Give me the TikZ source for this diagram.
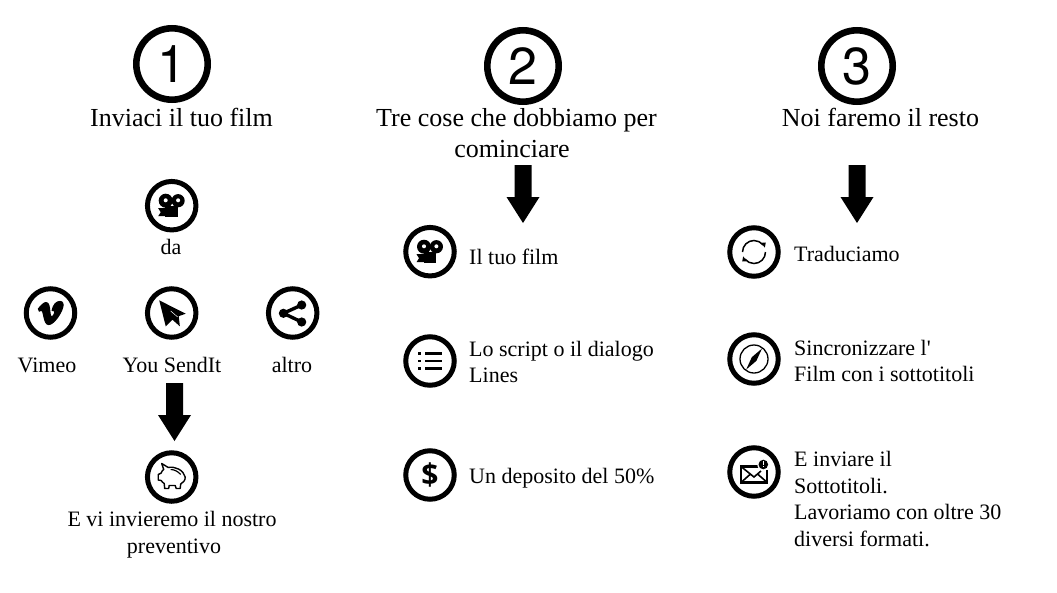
\documentclass[tikz,border=0pt]{standalone}
\usepackage{fontspec}
\setmainfont{Liberation Serif}
\newfontfamily\digitfont{TeX Gyre Heros}
\newfontfamily\dollarfont{Open Sans}
\newcommand{\camicon}{%
  \fill (-6,-5) circle (7); \fill (6.4,-5) circle (6.6);
  \fill[white] (-6,-5.4) circle (2); \fill[white] (6.4,-5.4) circle (2);
  \fill (-6.5,0) rectangle (6,11.5);
  \fill (-6,2.5) -- (-13.5,2.5) -- (-11,6.5) -- (-13.5,10.5) -- (-6,10.5) -- cycle;}
\newcommand{\vimeoicon}{%
  \fill[draw=black,line width=1,line join=round] (-12.2,-4.2) .. controls (-9,-8) and (-6.5,-10.5) .. (-4.5,-10.5)
    .. controls (-1.5,-10.5) and (-1,-6) .. (-0.6,-1.5)
    .. controls (-0.3,2) and (0.3,4) .. (1.2,4)
    .. controls (2.2,4) and (4.2,1) .. (4.2,-0.5)
    .. controls (4.2,-2) and (3.5,-3) .. (1.6,-2.5)
    .. controls (2.6,-8.5) and (6,-11.6) .. (9.5,-11.6)
    .. controls (12.6,-11.6) and (13.2,-8.5) .. (12.2,-5.5)
    .. controls (10.5,1) and (3,11.6) .. (-1.8,11.6)
    .. controls (-5,11.6) and (-5.8,7) .. (-6.8,3)
    .. controls (-7.5,0) and (-8,-2.8) .. (-9,-2.8)
    .. controls (-9.6,-2.8) and (-10.5,-2.2) .. (-11.2,-1.8) -- cycle;}
\newcommand{\planeicon}{%
  \fill (-12.5,-12.7) -- (14,0.7) -- (7,3.2) -- (8.2,13.3) -- (0.7,6.7) -- (-6,13.3) -- cycle;
  \draw[white,line width=0.5] (-1,-2) -- (6,4);}
\newcommand{\shareicon}{%
  \draw[line width=3.4] (9,-8) -- (-9.3,0.3) -- (9,9);
  \fill (9,-8) circle (4.6); \fill (-9.3,0.3) circle (4.6); \fill (9,9) circle (4.6);}
\newcommand{\piggyicon}{%
  \draw[line width=1.4,line join=round,fill=white]
    (-10,-13.5) .. controls (-7.5,-12) and (-5,-10.5) .. (-3.5,-9.5)
    .. controls (3,-11) and (12,-7) .. (13.5,0)
    .. controls (13.8,3.5) and (11,6) .. (9,7)
    -- (8.5,11.5) -- (4.5,11.5) -- (3.5,8.5) -- (-2.5,8.5) -- (-3,11.5) -- (-7,11.5) -- (-7.5,6.5)
    .. controls (-9,5.5) and (-10,4.5) .. (-10.5,3.5)
    -- (-13.5,3) -- (-13.5,-2.5) -- (-10.5,-4)
    .. controls (-10,-5.5) and (-9,-7) .. (-8,-7.5) -- cycle;
  \draw[line width=1.2] (-1,-7.5) .. controls (2,-7.5) and (6,-6) .. (9,-2.5);}
\newcommand{\listicon}{%
  \foreach \yy in {-7.7,0,7.5}{
    \fill (-12,\yy-1.3) rectangle (-8.7,\yy+1.3);
    \fill (-5.3,\yy-1.2) rectangle (12.3,\yy+1.2);}}
\newcommand{\refreshicon}{%
  \draw[line width=1.5] (180:11.5) arc[start angle=180,end angle=322,radius=11.5];
  \fill (7,-9.2) -- (11.8,-9.4) -- (10.8,-4.4) -- cycle;
  \draw[line width=1.5] (0:11.5) arc[start angle=0,end angle=142,radius=11.5];
  \fill (-7,9.2) -- (-11.8,9.4) -- (-10.8,4.4) -- cycle;}
\newcommand{\compassicon}{%
  \draw[line width=1.3] (0,0) circle (14);
  \fill (8,-10.5) -- (2.4,1.8) -- (-7.8,10.5) -- (-2.2,-1.8) -- cycle;}
\newcommand{\mailicon}{%
  \draw[line width=2.2,line join=miter] (5,-5.5) -- (-13,-5.5) -- (-13,10.5) -- (13.3,10.5) -- (13.3,-2);
  \draw[line width=1.6] (-13,-5.5) -- (0,5) -- (7,-1) (-13,10.5) -- (-3.5,2) (13.3,10.5) -- (3.5,2);
  \fill[white] (9.3,-7.5) circle (6);
  \fill (9.3,-7.5) circle (4.8);
  \fill[white] (8.6,-10.6) rectangle (10,-7.2);
  \fill[white] (8.6,-6.2) rectangle (10,-4.8);}
\tikzset{
  x=1pt,y=-1pt,
  bigring/.style={circle,draw,line width=6.6pt,minimum size=71.4pt,inner sep=0pt,
    font=\digitfont\fontsize{52}{52}\selectfont},
  ring/.style={circle,draw,line width=5pt,minimum size=48.5pt,inner sep=0pt},
  title/.style={align=center,font=\fontsize{26}{31}\selectfont,anchor=base,inner sep=0pt},
  label/.style={align=center,font=\fontsize{22}{27}\selectfont,anchor=base,inner sep=0pt},
  side/.style={align=left,font=\fontsize{22}{26.4}\selectfont,anchor=base west,inner sep=0pt},
  blockarrow/.style={fill=black,draw=none},
}
\newcommand{\blockarrow}[2]{\fill[blockarrow] (#1-8.5,#2) -- (#1+8.5,#2) -- (#1+8.5,#2+32) -- (#1+16.5,#2+32) -- (#1,#2+58) -- (#1-16.5,#2+32) -- (#1-8.5,#2+32) -- cycle;}
\begin{document}
\begin{tikzpicture}
\useasboundingbox (0,0) rectangle (1057,592);
% numbers
\node[bigring] (n1) at (172,64) {1};
\node[bigring] (n2) at (523,66) {2};
\node[bigring] (n3) at (857,66) {3};
\node[title] (t1) at (181.5,126) {Inviaci il tuo film};
\node[title] (t2) at (516.5,157) {Tre cose che dobbiamo per\\cominciare\hspace*{9pt}};
\node[title] (t3) at (880.5,126) {Noi faremo il resto};
% column 1
\node[ring] (c1) at (171.7,205.7) {};
\node[label] (lda) at (171,254) {da};
\node[ring] (vi) at (50.5,313) {};
\node[ring] (ys) at (171.7,313) {};
\node[ring] (al) at (292.7,313) {};
\node[label] (lvi) at (47,372) {Vimeo};
\node[label] (lys) at (172,372) {You SendIt};
\node[label] (lal) at (292,372) {altro};
\node[ring] (pg) at (171.7,477) {};
\node[label] (lpg) at (172,553) {E vi invieremo il nostro\\\hspace*{4pt}preventivo};
% column 2
\node[ring] (c2) at (430,251.7) {};
\node[ring] (ls) at (430,361) {};
\node[ring] (dl) at (430,475) {};
\node[side] (tc2) at (469,264) {Il tuo film};
\node[side] (tls) at (469,382.5) {Lo script o il dialogo\\Lines};
\node[side] (tdl) at (469,483) {Un deposito del 50\%};
% column 3
\node[ring] (rf) at (754,252) {};
\node[ring] (cp) at (754,359) {};
\node[ring] (ml) at (754,472) {};
\node[side] (trf) at (794,261) {Traduciamo};
\node[side] (tcp) at (794,381.5) {Sincronizzare l\textquotesingle\\Film con i sottotitoli};
\node[side] (tml) at (794,546) {E inviare il\\Sottotitoli.\\Lavoriamo con oltre 30\\diversi formati.};
% icons
\begin{scope}[shift={(c1.center)}]\camicon\end{scope}
\begin{scope}[shift={(vi.center)}]\vimeoicon\end{scope}
\begin{scope}[shift={(ys.center)}]\planeicon\end{scope}
\begin{scope}[shift={(al.center)}]\shareicon\end{scope}
\begin{scope}[shift={(pg.center)}]\piggyicon\end{scope}
\begin{scope}[shift={(c2.center)}]\camicon\end{scope}
\begin{scope}[shift={(ls.center)}]\listicon\end{scope}
\node[font=\dollarfont\bfseries\fontsize{30}{30}\selectfont,inner sep=0pt] (dollar) at (dl.center) {\$};
\begin{scope}[shift={(rf.center)}]\refreshicon\end{scope}
\begin{scope}[shift={(cp.center)}]\compassicon\end{scope}
\begin{scope}[shift={(ml.center)}]\mailicon\end{scope}
% arrows
\blockarrow{174.5}{383}
\blockarrow{523}{165}
\blockarrow{857}{165}
\end{tikzpicture}
\end{document}
